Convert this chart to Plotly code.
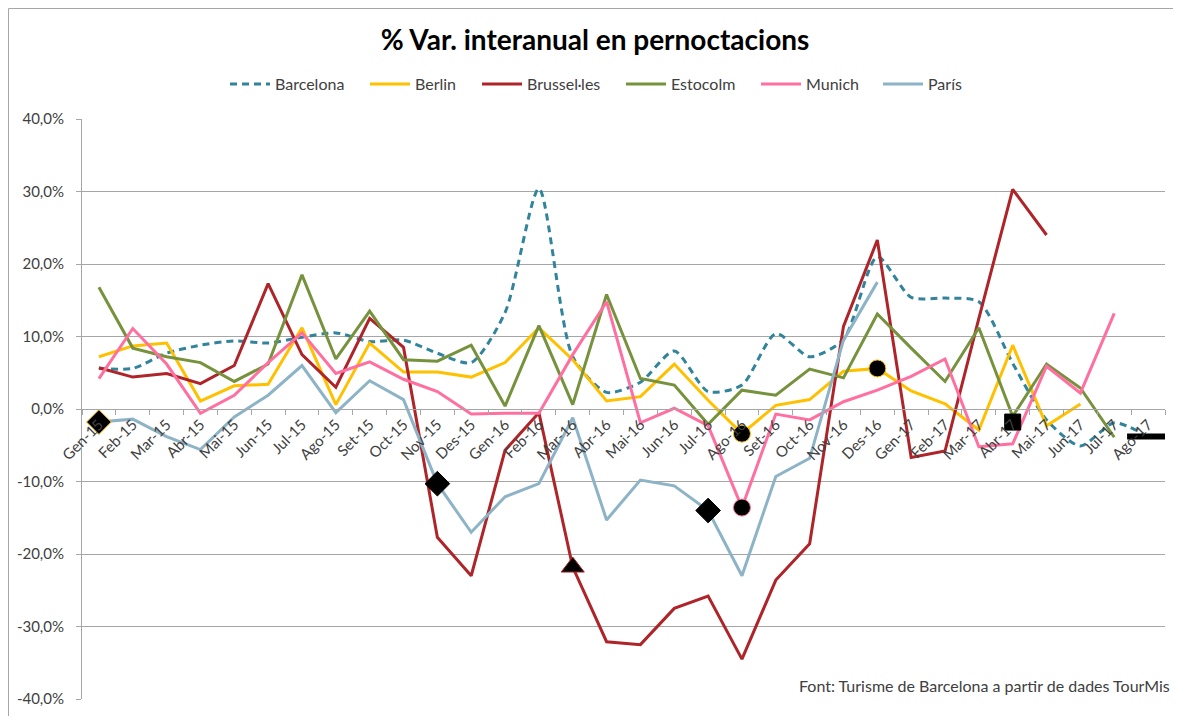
import plotly.graph_objects as go

months = ["Gen-15", "Feb-15", "Mar-15", "Abr-15", "Mai-15", "Jun-15", "Jul-15", "Ago-15",
          "Set-15", "Oct-15", "Nov-15", "Des-15", "Gen-16", "Feb-16", "Mar-16", "Abr-16",
          "Mai-16", "Jun-16", "Jul-16", "Ago-16", "Set-16", "Oct-16", "Nov-16", "Des-16",
          "Gen-17", "Feb-17", "Mar-17", "Abr-17", "Mai-17", "Jun-17", "Jul-17", "Ago-17"]

barcelona = [5.6, 5.6, 7.7, 8.8, 9.4, 9.1, 9.9, 10.5, 9.3, 9.5, 7.7, 6.4, 13.3, 30.4, 7.2, 2.3,
             3.7, 8.0, 2.4, 3.3, 10.4, 7.2, 9.6, 21.0, 15.4, 15.3, 14.8, 6.3, -1.5, -5.1, -1.9, -3.8]
berlin = [7.2, 8.7, 9.1, 1.1, 3.2, 3.4, 11.2, 0.6, 9.1, 5.1, 5.1, 4.4, 6.4, 11.2, 6.8, 1.1,
          1.7, 6.2, 1.2, -3.4, 0.5, 1.3, 5.2, 5.6, 2.5, 0.7, -2.9, 8.8, -2.3, 0.7, None, None]
brussel = [5.7, 4.4, 4.9, 3.5, 6.0, 17.3, 7.5, 3.0, 12.5, 8.5, -17.7, -23.0, -5.7, -0.5, -21.8, -32.1,
           -32.5, -27.5, -25.8, -34.5, -23.6, -18.6, 11.4, 23.3, -6.7, -5.8, 12.5, 30.3, 24.0, None, None, None]
estocolm = [16.8, 8.4, 7.2, 6.4, 3.8, 6.2, 18.5, 6.9, 13.5, 6.8, 6.6, 8.8, 0.4, 11.5, 0.6, 15.8,
            4.2, 3.3, -2.1, 2.6, 1.9, 5.5, 4.3, 13.1, 8.4, 3.8, 11.2, -1.0, 6.2, 2.9, -3.9, None]
munich = [4.2, 11.1, 6.2, -0.6, 1.9, 6.4, 10.5, 4.9, 6.5, 4.1, 2.4, -0.7, -0.6, -0.6, 7.5, 14.8,
          -1.9, 0.1, -2.3, -13.6, -0.7, -1.5, 1.0, 2.6, 4.5, 6.9, -5.2, -4.8, 5.9, 2.2, 13.2, None]
paris = [-1.8, -1.4, -3.8, -5.6, -1.1, 1.9, 6.0, -0.5, 3.9, 1.3, -10.3, -17.0, -12.1, -10.3, -1.2, -15.3,
         -9.8, -10.6, -14.0, -23.0, -9.3, -6.8, 9.5, 17.5, None, None, None, None, None, None, None, None]

# event markers
diamond_x = ["Gen-15", "Nov-15", "Jul-16"]
diamond_y = [-1.8, -10.3, -14.0]
diamond_edge = ["#FFC000", "#000000", "#000000"]
triangle_x = ["Mar-16"]
triangle_y = [-21.8]
circle_x = ["Ago-16", "Ago-16", "Des-16"]
circle_y = [-3.4, -13.6, 5.6]
circle_edge = ["#FFC000", "#FF6F9F", "#FFC000"]
square_x = ["Abr-17"]
square_y = [-1.8]
dash_x = ["Ago-17"]
dash_y = [-3.8]

ytick_vals = [-40, -30, -20, -10, 0, 10, 20, 30, 40]
ytick_text = ["-40,0%", "-30,0%", "-20,0%", "-10,0%", "0,0%", "10,0%", "20,0%", "30,0%", "40,0%"]

FONT = "Lato"
TXT = "#404040"

# name, values, colour, dash, legend entry width
series = [
    ("Barcelona", barcelona, "#31849B", "7px,5px", 85),
    ("Berlin", berlin, "#FFC000", "solid", 57),
    ("Brussel·les", brussel, "#AE2429", "solid", 89),
    ("Estocolm", estocolm, "#76923C", "solid", 80),
    ("Munich", munich, "#FF6F9F", "solid", 67),
    ("París", paris, "#8DB3C6", "solid", 40),
]

fig = go.Figure()
for name, vals, col, dash, lw in series:
    line = dict(color=col, width=3, dash=dash)
    if name == "Barcelona":
        line.update(shape="spline", smoothing=0.7)
    fig.add_trace(go.Scatter(x=months, y=vals, name=name, mode="lines", line=line,
                             connectgaps=False, legendwidth=lw))

fig.add_trace(go.Scatter(x=diamond_x, y=diamond_y, mode="markers", showlegend=False,
                         marker=dict(symbol="diamond", size=19, color="black",
                                     line=dict(color=diamond_edge, width=1))))
fig.add_trace(go.Scatter(x=triangle_x, y=triangle_y, mode="markers", showlegend=False,
                         marker=dict(symbol="triangle-up", size=20, color="black",
                                     line=dict(color="#AE2429", width=1))))
fig.add_trace(go.Scatter(x=circle_x, y=circle_y, mode="markers", showlegend=False,
                         marker=dict(symbol="circle", size=17, color="black",
                                     line=dict(color=circle_edge, width=1))))
fig.add_trace(go.Scatter(x=square_x, y=square_y, mode="markers", showlegend=False,
                         marker=dict(symbol="square", size=16, color="black",
                                     line=dict(color="black", width=1))))
fig.add_trace(go.Scatter(x=dash_x, y=dash_y, mode="markers", showlegend=False,
                         marker=dict(symbol="line-ew", size=30, color="black",
                                     line=dict(color="black", width=6))))

# page has an 8px body margin: figure coords = page coords - 8
W, H = 1173, 708
L, T, R, B = 74, 111, 16, 17
PW, PH = W - L - R, H - T - B


def px_x(page_x):
    return (page_x - 8 - L) / PW


def px_y(page_y):
    return (H - B - (page_y - 8)) / PH


fig.update_layout(
    width=W, height=H,
    margin=dict(l=L, r=R, t=T, b=B, autoexpand=False),
    paper_bgcolor="white", plot_bgcolor="white",
    font=dict(family=FONT, size=14, color=TXT),
    title=dict(text="<b>% Var. interanual en pernoctacions</b>", x=(595 - 8) / W, xref="container",
               y=1 - (40 - 8) / H, yref="container", xanchor="center", yanchor="middle",
               font=dict(family=FONT, size=28, color="#000000")),
    legend=dict(orientation="h", x=px_x(599), xanchor="center", y=px_y(84), yanchor="middle",
                font=dict(family=FONT, size=16, color=TXT), itemwidth=40,
                bgcolor="rgba(0,0,0,0)"),
    showlegend=True,
    xaxis=dict(type="category", categoryorder="array", categoryarray=months,
               range=[-0.5, len(months) - 0.5], automargin=False,
               anchor="free", position=0.5, showline=True, linecolor="#A6A6A6", linewidth=1,
               ticks="outside", tickson="boundaries", ticklen=5, tickcolor="#A6A6A6",
               tickangle=-45, tickfont=dict(family=FONT, size=15, color=TXT),
               showgrid=False, zeroline=False),
    yaxis=dict(range=[-40, 40], tickvals=ytick_vals, ticktext=ytick_text, automargin=False,
               showgrid=True, gridcolor="#A6A6A6", gridwidth=1, zeroline=False,
               showline=True, linecolor="#A6A6A6", linewidth=1,
               ticks="outside", ticklen=5, tickcolor="#A6A6A6", ticklabelstandoff=9,
               tickfont=dict(family=FONT, size=15, color=TXT)),
    annotations=[dict(text="Font: Turisme de Barcelona a partir de dades TourMis",
                      xref="paper", yref="paper", x=px_x(1172), y=px_y(685), xanchor="right",
                      yanchor="middle", showarrow=False,
                      font=dict(family=FONT, size=16, color=TXT))],
    shapes=[
        dict(type="line", xref="paper", yref="paper", x0=px_x(8.5), x1=px_x(1181),
             y0=px_y(8.5), y1=px_y(8.5), line=dict(color="#A6A6A6", width=1)),
        dict(type="line", xref="paper", yref="paper", x0=px_x(8.5), x1=px_x(8.5),
             y0=px_y(8.5), y1=px_y(716), line=dict(color="#A6A6A6", width=1)),
    ],
)

fig.write_html("out.html")
